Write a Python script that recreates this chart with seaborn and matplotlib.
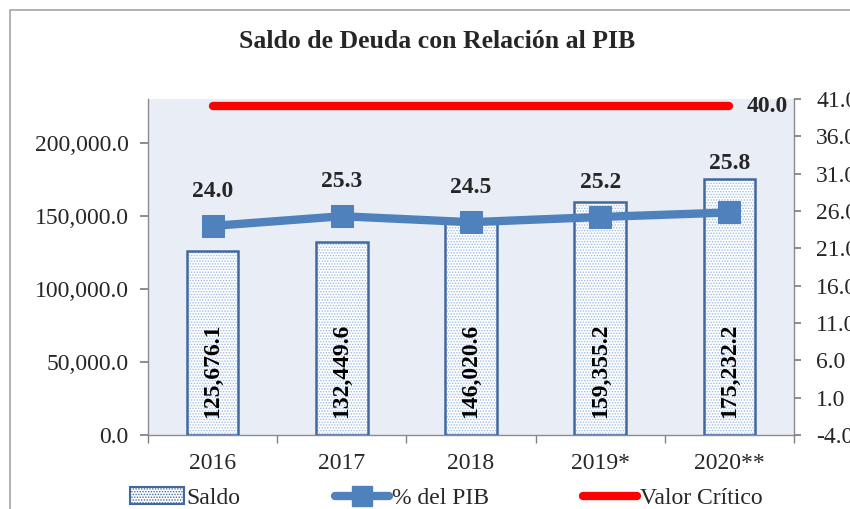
import matplotlib
matplotlib.use("Agg")
import matplotlib.pyplot as plt
import seaborn as sns
import pandas as pd
from matplotlib.patches import Rectangle, Patch
from matplotlib.lines import Line2D
from matplotlib.ticker import FuncFormatter, FixedLocator

years = ["2016", "2017", "2018", "2019*", "2020**"]
saldo = [125676.1, 132449.6, 146020.6, 159355.2, 175232.2]
pct_pib = [24.0, 25.3, 24.5, 25.2, 25.8]
valor_critico = 40.0

sns.set_theme(style="white")
plt.rcParams["font.family"] = ["Liberation Serif", "DejaVu Serif"]
plt.rcParams["hatch.linewidth"] = 0.7

FS = 17

df = pd.DataFrame({"year": years, "saldo": saldo, "pct": pct_pib})

fig = plt.figure(figsize=(8.5, 5.09), dpi=100)
fig.patch.set_facecolor("white")
# outer border
fig.add_artist(Rectangle((10 / 850, -0.1), 1.0, 1 - 10 / 509 + 0.1, transform=fig.transFigure,
                         fill=False, edgecolor="#A6A6A6", linewidth=1.2))

ax = fig.add_axes([148 / 850, 1 - 435 / 509, (794 - 148) / 850, (435 - 99) / 509])
ax.set_facecolor("#E9EDF5")

# hatch-only layer
sns.barplot(data=df, x="year", y="saldo", ax=ax, width=0.4, color="white",
            edgecolor="#9DBBE3", linewidth=0, hatch="......", saturation=1)
for p in ax.patches:
    p.set_linewidth(0)
bars = list(ax.patches)
for p in bars:
    ax.add_patch(Rectangle((p.get_x(), p.get_y()), p.get_width(), p.get_height(),
                           fill=False, edgecolor="#41689F", linewidth=1.8, zorder=3))

ax.set_xlim(-0.5, 4.5)
ax.set_ylim(0, 230000)
ax.set_yticks([0, 50000, 100000, 150000, 200000])
ax.yaxis.set_major_formatter(FuncFormatter(lambda v, _: f"{v:,.1f}"))
ax.set_xlabel("")
ax.set_ylabel("")
ax.tick_params(axis="y", labelsize=FS, length=6, color="#808080", left=True, direction="out", pad=8)
ax.tick_params(axis="x", labelsize=FS, length=0, pad=13)
ax.xaxis.set_minor_locator(FixedLocator([-0.5, 0.5, 1.5, 2.5, 3.5, 4.5]))
ax.tick_params(axis="x", which="minor", length=6, color="#808080", bottom=True, direction="out")
for s in ["left", "bottom", "right"]:
    ax.spines[s].set_color("#8C8C8C")
    ax.spines[s].set_linewidth(1)
ax.spines["top"].set_visible(False)

for i, v in enumerate(saldo):
    ax.text(i, 11500, f"{v:,.1f}", rotation=90, ha="center", va="bottom",
            fontsize=FS, fontweight="bold", color="black", zorder=5)

ax2 = ax.twinx()
ax2.set_ylim(-4, 41)
ax2.set_yticks([-4, 1, 6, 11, 16, 21, 26, 31, 36, 41])
ax2.yaxis.set_major_formatter(FuncFormatter(lambda v, _: f"{v:.1f}"))
ax2.tick_params(axis="y", labelsize=FS, length=5, color="#808080", right=True, direction="out", pad=11)
for s in ["left", "bottom", "right", "top"]:
    ax2.spines[s].set_visible(False)
ax2.grid(False)

xs = list(range(len(years)))
sns.lineplot(x=xs, y=pct_pib, ax=ax2, color="#4F81BD", linewidth=6, marker="s",
             markersize=16, markeredgecolor="#4F81BD", zorder=4)
ax2.plot([xs[0], xs[-1]], [valor_critico, valor_critico], color="#FF0000", linewidth=6,
         solid_capstyle="round", zorder=4)
ax2.text(xs[-1] + 0.13, valor_critico, f"{valor_critico:.1f}", ha="left", va="center",
         fontsize=FS, fontweight="bold")

offsets = [25, 25, 25, 25, 35]
for i, v in enumerate(pct_pib):
    ax2.annotate(f"{v:.1f}", (i, v), xytext=(0, offsets[i]), textcoords="offset points",
                 ha="center", va="center", fontsize=FS, fontweight="bold")
ax2.set_xlim(-0.5, 4.5)

fig.text(437 / 850, 1 - 42 / 509, "Saldo de Deuda con Relación al PIB", ha="center", va="center",
         fontsize=18.5, fontweight="bold")

handles = [
    Patch(facecolor="white", edgecolor="#41689F", hatch="......", linewidth=1.5),
    Line2D([0], [0], color="#4F81BD", linewidth=6, marker="s", markersize=14),
    Line2D([0], [0], color="#FF0000", linewidth=6, solid_capstyle="round"),
]
fig.legend(handles, ["Saldo", "% del PIB", "Valor Crítico"], loc="center",
           bbox_to_anchor=(446 / 850, 1 - 498 / 509), ncol=3, frameon=False,
           fontsize=FS, columnspacing=4.0, handlelength=2.3, handletextpad=0.1)

fig.savefig("out.png", dpi=100)
